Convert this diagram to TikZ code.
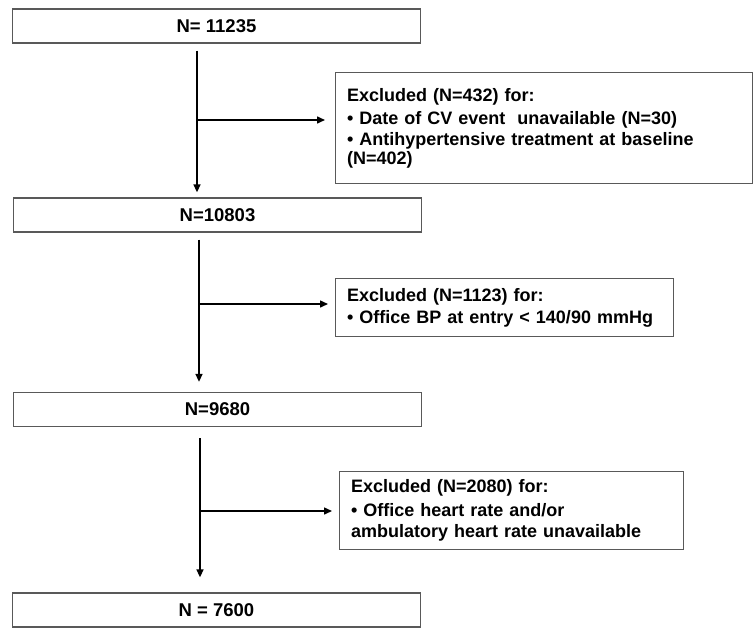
\documentclass[tikz,border=0pt]{standalone}
\usepackage{fontspec}
\setmainfont{Liberation Sans}
\usetikzlibrary{arrows.meta}

\begin{document}
\begin{tikzpicture}[x=1pt,y=-1pt,
		stage/.style={draw=black!65,line width=1.3pt,minimum width=408pt,minimum height=34pt,inner sep=0pt,font=\fontsize{18.5}{22}\selectfont\bfseries},
		excl/.style={draw=black!65,line width=1.3pt,anchor=north west,align=left,inner xsep=11.5pt,inner ysep=0pt,font=\fontsize{18}{21.5}\selectfont\bfseries},
		flow/.style={line width=1.5pt,-{Triangle[length=8pt,width=7pt]}}]
		\useasboundingbox (0,0) rectangle (755,627);
		\node[stage] (n1) at (216.5,26) {N= 11235};
		\node[stage] (n2) at (217.5,215) {N=10803};
		\node[stage] (n3) at (217.5,409.5) {N=9680};
		\node[stage] (n4) at (216.5,610) {N = 7600};
		\node[excl,text width=394pt,minimum height=111pt] (e1) at (335,72) {Excluded (N=432) for:\\[1.5pt] • Date of CV event~ unavailable (N=30)\\ • Antihypertensive treatment at baseline\\[-3pt] (N=402)\\[3pt]};
		\node[excl,text width=315pt,minimum height=58pt] (e2) at (335,278) {Excluded (N=1123) for:\\[1pt] • Office BP at entry < 140/90 mmHg};
		\node[excl,text width=321pt,minimum height=78pt] (e3) at (339,471) {Excluded (N=2080) for:\\[2pt] • Office heart rate and/or\\ ambulatory heart rate unavailable};
		\coordinate (j1) at (197,120);
		\coordinate (j2) at (199,304);
		\coordinate (j3) at (200,511);
		\draw[flow,shorten <=7pt,shorten >=5pt] (n1.south -| j1) -- (n2.north -| j1);
		\draw[flow,shorten >=10pt] (j1) -- (e1.west |- j1);
		\draw[flow,shorten <=7pt,shorten >=10pt] (n2.south -| j2) -- (n3.north -| j2);
		\draw[flow,shorten >=7pt] (j2) -- (e2.west |- j2);
		\draw[flow,shorten <=11pt,shorten >=15pt] (n3.south -| j3) -- (n4.north -| j3);
		\draw[flow,shorten >=7pt] (j3) -- (e3.west |- j3);
	\end{tikzpicture}
\end{document}
